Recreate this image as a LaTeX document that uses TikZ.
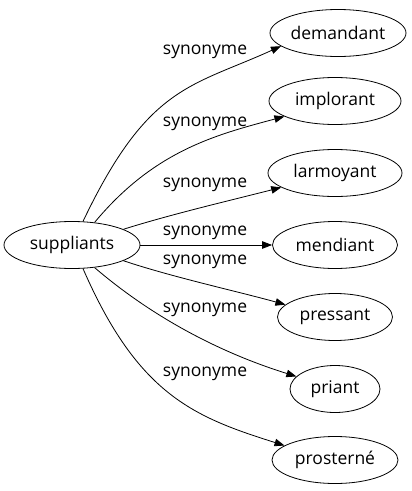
\documentclass[tikz,border=0pt]{standalone}
\usepackage{fontspec}
\setmainfont{Open Sans}
\usetikzlibrary{arrows.meta,shapes.geometric}

\begin{document}
\begin{tikzpicture}[x=1pt, y=-1pt,
		mot/.style={draw, ellipse, line width=0.8pt, inner sep=0pt, minimum height=47pt, font=\fontsize{17.5}{21}\selectfont},
		lien/.style={line width=0.8pt, -{Triangle[length=10pt,width=7.5pt]}},
		etiq/.style={inner sep=0pt, font=\fontsize{17.5}{21}\selectfont}]
		%%%%% START %%%%%
		
		\useasboundingbox (0,0) rectangle (412,491);
		
		\node[mot, minimum width=136pt] (suppliants) at (72,245) {suppliants};
		
		\node[mot, minimum width=136pt] (demandant) at (338,33) {demandant};
		\node[mot, minimum width=132pt] (implorant) at (335,101) {implorant};
		\node[mot, minimum width=134pt] (larmoyant) at (335,173) {larmoyant};
		\node[mot, minimum width=125pt] (mendiant) at (335,245) {mendiant};
		\node[mot, minimum width=115pt] (pressant) at (335,317) {pressant};
		\node[mot, minimum width=90pt] (priant) at (335,389) {priant};
		\node[mot, minimum width=126pt] (prosterne) at (335,460) {prosterné};
		
		\node[etiq] (s1) at (205,52) {synonyme};
		\node[etiq] (s2) at (205,124) {synonyme};
		\node[etiq] (s3) at (205,185) {synonyme};
		\node[etiq] (s4) at (205,233) {synonyme};
		\node[etiq] (s5) at (205,262) {synonyme};
		\node[etiq] (s6) at (205,310) {synonyme};
		\node[etiq] (s7) at (205,374) {synonyme};
		
		\draw[lien] (suppliants.65) .. controls (148,85) and (191,87) .. (demandant.193);
		\draw[lien] (suppliants.45) .. controls (154,151) and (215,135) .. (implorant.197);
		\draw[lien] (suppliants.17) .. controls (172,214) and (232,200) .. (larmoyant.195);
		\draw[lien] (suppliants) -- (mendiant);
		\draw[lien] (suppliants.-17) .. controls (172,277) and (236,291) .. (pressant.166);
		\draw[lien] (suppliants.-45) .. controls (164,327) and (237,358) .. (priant.162);
		\draw[lien] (suppliants.-65) .. controls (138,395) and (194,417) .. (prosterne.164.5);
		
		%%%%% END %%%%%
	\end{tikzpicture}
\end{document}
